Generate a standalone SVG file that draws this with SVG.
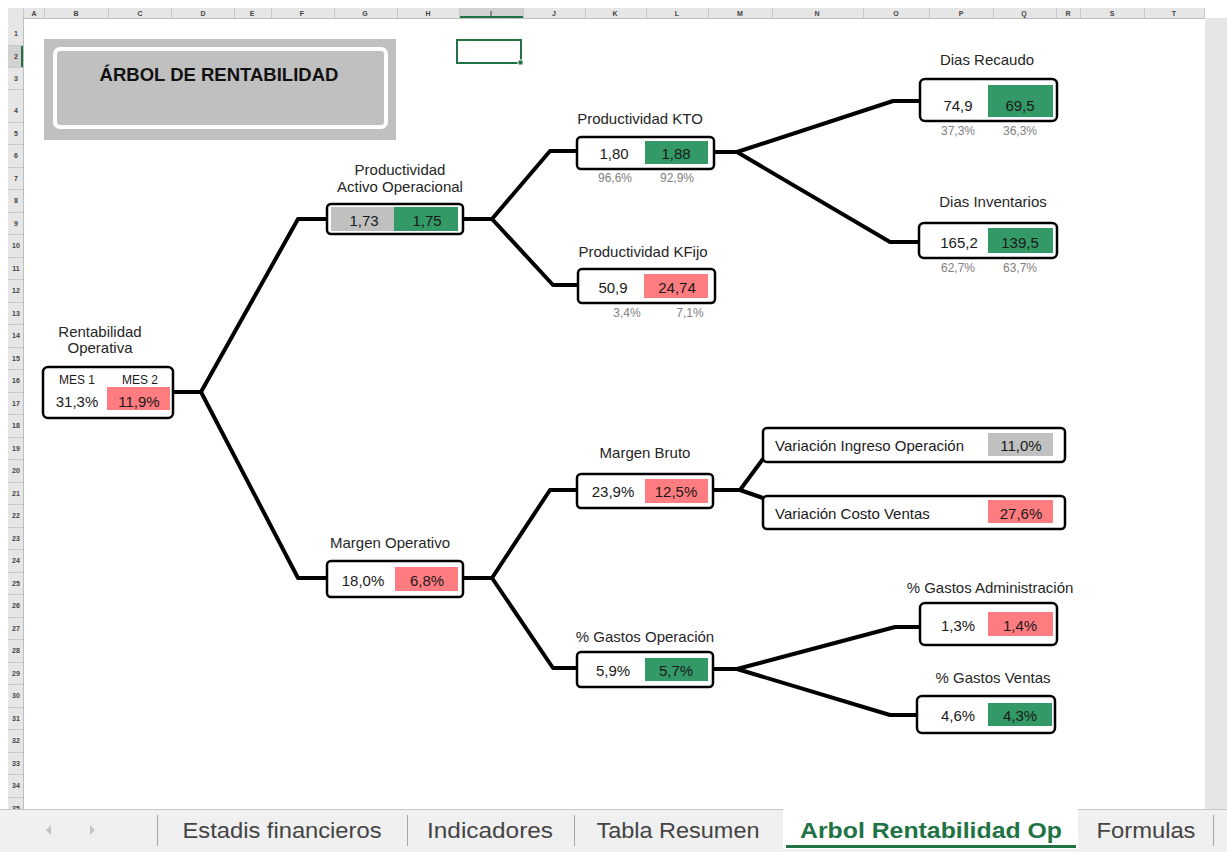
<svg xmlns="http://www.w3.org/2000/svg" width="1227" height="852" viewBox="0 0 1227 852">
<style>
.hl{font-family:'Liberation Sans',Arial,sans-serif;font-size:7px;font-weight:bold;fill:#444;text-anchor:middle}
.sep{stroke:#c8c8c8;stroke-width:1}
.box{fill:#fff;stroke:#000;stroke-width:2.5}
.lbl{font-family:'Liberation Sans',Arial,sans-serif;font-size:15px;fill:#262626;text-anchor:middle}
.val{font-family:'Liberation Sans',Arial,sans-serif;font-size:15px;fill:#1a1a1a;text-anchor:middle}
.mes{font-family:'Liberation Sans',Arial,sans-serif;font-size:12px;fill:#1a1a1a;text-anchor:middle}
.pct{font-family:'Liberation Sans',Arial,sans-serif;font-size:12px;fill:#808080;text-anchor:middle}
.red{fill:#ff7c80}
.grn{fill:#339966}
.gry{fill:#c0c0c0}
.con{fill:none;stroke:#000;stroke-width:4;stroke-linejoin:round}
.tab{font-family:'Liberation Sans',Arial,sans-serif;font-size:22px;fill:#444;text-anchor:middle}
.tsep{stroke:#a6a6a6;stroke-width:1}
</style>
<rect width="1227" height="852" fill="#fff"/>
<g id="sheet-frame">
  <rect x="8" y="8" width="1197" height="10" fill="#e6e6e6"/>
  <rect x="459" y="8" width="64" height="10" fill="#d2d2d2"/>
  <line x1="459" y1="17" x2="523" y2="17" stroke="#217346" stroke-width="2"/>
  <line x1="8" y1="18.5" x2="1205" y2="18.5" stroke="#bdbdbd"/>
  <g class="sep">
    <line x1="23.5" y1="8" x2="23.5" y2="18"/><line x1="44.5" y1="8" x2="44.5" y2="18"/><line x1="108.5" y1="8" x2="108.5" y2="18"/><line x1="171.5" y1="8" x2="171.5" y2="18"/><line x1="234.5" y1="8" x2="234.5" y2="18"/><line x1="271.5" y1="8" x2="271.5" y2="18"/><line x1="334.5" y1="8" x2="334.5" y2="18"/><line x1="397.5" y1="8" x2="397.5" y2="18"/><line x1="459.5" y1="8" x2="459.5" y2="18"/><line x1="523.5" y1="8" x2="523.5" y2="18"/><line x1="585.5" y1="8" x2="585.5" y2="18"/><line x1="646.5" y1="8" x2="646.5" y2="18"/><line x1="708.5" y1="8" x2="708.5" y2="18"/><line x1="772.5" y1="8" x2="772.5" y2="18"/><line x1="863.5" y1="8" x2="863.5" y2="18"/><line x1="929.5" y1="8" x2="929.5" y2="18"/><line x1="993.5" y1="8" x2="993.5" y2="18"/><line x1="1056.5" y1="8" x2="1056.5" y2="18"/><line x1="1080.5" y1="8" x2="1080.5" y2="18"/><line x1="1144.5" y1="8" x2="1144.5" y2="18"/><line x1="1204.5" y1="8" x2="1204.5" y2="18"/>
  </g>
  <g class="hl">
    <text x="34" y="16">A</text><text x="76" y="16">B</text><text x="140" y="16">C</text><text x="203" y="16">D</text><text x="252" y="16">E</text><text x="302" y="16">F</text><text x="365" y="16">G</text><text x="428" y="16">H</text><text x="491" y="16">I</text><text x="554" y="16">J</text><text x="615" y="16">K</text><text x="677" y="16">L</text><text x="740" y="16">M</text><text x="817" y="16">N</text><text x="896" y="16">O</text><text x="961" y="16">P</text><text x="1024" y="16">Q</text><text x="1068" y="16">R</text><text x="1112" y="16">S</text><text x="1174" y="16">T</text>
  </g>
  <rect x="8" y="18" width="15" height="791" fill="#e6e6e6"/>
  <rect x="8" y="45" width="15" height="22" fill="#d2d2d2"/>
  <line x1="22" y1="45" x2="22" y2="67" stroke="#217346" stroke-width="2"/>
  <line x1="23.5" y1="18" x2="23.5" y2="809" stroke="#bdbdbd"/>
  <g class="sep">
    <line x1="8" y1="45.5" x2="23" y2="45.5"/><line x1="8" y1="67.5" x2="23" y2="67.5"/><line x1="8" y1="89.5" x2="23" y2="89.5"/><line x1="8" y1="122.5" x2="23" y2="122.5"/><line x1="8" y1="144.5" x2="23" y2="144.5"/><line x1="8" y1="167.5" x2="23" y2="167.5"/><line x1="8" y1="189.5" x2="23" y2="189.5"/><line x1="8" y1="212.5" x2="23" y2="212.5"/><line x1="8" y1="234.5" x2="23" y2="234.5"/><line x1="8" y1="257.5" x2="23" y2="257.5"/><line x1="8" y1="279.5" x2="23" y2="279.5"/><line x1="8" y1="302.5" x2="23" y2="302.5"/><line x1="8" y1="324.5" x2="23" y2="324.5"/><line x1="8" y1="347.5" x2="23" y2="347.5"/><line x1="8" y1="369.5" x2="23" y2="369.5"/><line x1="8" y1="392.5" x2="23" y2="392.5"/><line x1="8" y1="414.5" x2="23" y2="414.5"/><line x1="8" y1="437.5" x2="23" y2="437.5"/><line x1="8" y1="459.5" x2="23" y2="459.5"/><line x1="8" y1="482.5" x2="23" y2="482.5"/><line x1="8" y1="504.5" x2="23" y2="504.5"/><line x1="8" y1="527.5" x2="23" y2="527.5"/><line x1="8" y1="549.5" x2="23" y2="549.5"/><line x1="8" y1="572.5" x2="23" y2="572.5"/><line x1="8" y1="594.5" x2="23" y2="594.5"/><line x1="8" y1="617.5" x2="23" y2="617.5"/><line x1="8" y1="639.5" x2="23" y2="639.5"/><line x1="8" y1="662.5" x2="23" y2="662.5"/><line x1="8" y1="684.5" x2="23" y2="684.5"/><line x1="8" y1="707.5" x2="23" y2="707.5"/><line x1="8" y1="729.5" x2="23" y2="729.5"/><line x1="8" y1="752.5" x2="23" y2="752.5"/><line x1="8" y1="774.5" x2="23" y2="774.5"/><line x1="8" y1="797.5" x2="23" y2="797.5"/>
  </g>
  <g class="hl">
    <text x="16" y="36">1</text><text x="16" y="59">2</text><text x="16" y="81">3</text><text x="16" y="113">4</text><text x="16" y="136">5</text><text x="16" y="158">6</text><text x="16" y="181">7</text><text x="16" y="203">8</text><text x="16" y="226">9</text><text x="16" y="248">10</text><text x="16" y="271">11</text><text x="16" y="293">12</text><text x="16" y="316">13</text><text x="16" y="338">14</text><text x="16" y="361">15</text><text x="16" y="383">16</text><text x="16" y="406">17</text><text x="16" y="428">18</text><text x="16" y="451">19</text><text x="16" y="473">20</text><text x="16" y="496">21</text><text x="16" y="518">22</text><text x="16" y="541">23</text><text x="16" y="563">24</text><text x="16" y="586">25</text><text x="16" y="608">26</text><text x="16" y="631">27</text><text x="16" y="653">28</text><text x="16" y="676">29</text><text x="16" y="698">30</text><text x="16" y="721">31</text><text x="16" y="743">32</text><text x="16" y="766">33</text><text x="16" y="788">34</text><text x="16" y="811">35</text>
  </g>
  <rect x="1205" y="18" width="22" height="792" fill="#e6e6e6"/>
</g>
<g id="tabbar">
  <rect x="0" y="809" width="1227" height="43" fill="#f0f0f0"/>
  <line x1="0" y1="809.5" x2="1227" y2="809.5" stroke="#c6c6c6"/>
  <rect x="783" y="809" width="295" height="40" fill="#fff"/>
  <line x1="786" y1="846.5" x2="1076" y2="846.5" stroke="#217346" stroke-width="3"/>
  <polygon points="51,825 46,830 51,835" fill="#c4c4c4"/>
  <polygon points="90,825 95,830 90,835" fill="#c4c4c4"/>
  <g class="tsep">
    <line x1="157.5" y1="815" x2="157.5" y2="846"/><line x1="407.5" y1="815" x2="407.5" y2="846"/><line x1="574.5" y1="815" x2="574.5" y2="846"/><line x1="1213.5" y1="815" x2="1213.5" y2="846"/>
  </g>
  <text class="tab" x="282" y="838" textLength="199" lengthAdjust="spacingAndGlyphs">Estadis financieros</text>
  <text class="tab" x="490" y="838" textLength="126" lengthAdjust="spacingAndGlyphs">Indicadores</text>
  <text class="tab" x="678" y="838" textLength="163" lengthAdjust="spacingAndGlyphs">Tabla Resumen</text>
  <text class="tab" x="931" y="838" textLength="262" lengthAdjust="spacingAndGlyphs" style="fill:#217346;font-weight:bold">Arbol Rentabilidad Op</text>
  <text class="tab" x="1146" y="838" textLength="99" lengthAdjust="spacingAndGlyphs">Formulas</text>
</g>
<g id="title">
  <rect x="44" y="39" width="352" height="101" fill="#c0c0c0"/>
  <rect x="55" y="49" width="331" height="78" rx="5" fill="#c0c0c0" stroke="#fff" stroke-width="4"/>
  <text x="219" y="81" font-family="'Liberation Sans',Arial,sans-serif" font-size="18.5" font-weight="bold" fill="#111" text-anchor="middle">ÁRBOL DE RENTABILIDAD</text>
</g>
<g id="selected-cell">
  <rect x="457" y="40" width="64" height="23" fill="none" stroke="#217346" stroke-width="2"/>
  <rect x="518" y="60" width="5" height="5" fill="#217346" stroke="#fff" stroke-width="1"/>
</g>
<g id="connectors" class="con">
  <path d="M173,392 H201 L298,219 H327"/>
  <path d="M201,392 L298,578 H327"/>
  <path d="M463,219 H492 L550,151 H577"/>
  <path d="M492,219 L553,285 H578"/>
  <path d="M714,152 H737 L893,101 H920"/>
  <path d="M737,152 L890,242 H919"/>
  <path d="M463,578 H492 L550,490 H577"/>
  <path d="M492,578 L553,668 H577"/>
  <path d="M713,490 H740 L763,459"/>
  <path d="M740,490 L763,498"/>
  <path d="M713,669 H737 L895,627 H920"/>
  <path d="M737,669 L890,715 H917"/>
</g>
<g id="node-rentabilidad-operativa">
  <text class="lbl" x="100" y="337">Rentabilidad</text>
  <text class="lbl" x="100" y="353">Operativa</text>
  <rect class="box" x="43" y="367" width="130" height="51" rx="5"/>
  <rect class="red" x="107" y="387" width="63" height="23"/>
  <text class="mes" x="77" y="384">MES 1</text>
  <text class="mes" x="140" y="384">MES 2</text>
  <text class="val" x="77" y="407">31,3%</text>
  <text class="val" x="139" y="407">11,9%</text>
</g>
<g id="node-productividad-activo">
  <text class="lbl" x="400" y="175">Productividad</text>
  <text class="lbl" x="400" y="192">Activo Operacional</text>
  <rect class="box" x="327" y="204" width="136" height="30" rx="4"/>
  <rect class="gry" x="331" y="207" width="63" height="24"/>
  <rect class="grn" x="394" y="207" width="64" height="24"/>
  <text class="val" x="364" y="226">1,73</text>
  <text class="val" x="427" y="226">1,75</text>
</g>
<g id="node-productividad-kto">
  <text class="lbl" x="640" y="124">Productividad KTO</text>
  <rect class="box" x="577" y="137" width="137" height="32" rx="4"/>
  <rect class="grn" x="645" y="141" width="63" height="23"/>
  <text class="val" x="614" y="159">1,80</text>
  <text class="val" x="676" y="159">1,88</text>
  <text class="pct" x="615" y="182">96,6%</text>
  <text class="pct" x="677" y="182">92,9%</text>
</g>
<g id="node-productividad-kfijo">
  <text class="lbl" x="643" y="257">Productividad KFijo</text>
  <rect class="box" x="578" y="269" width="137" height="34" rx="4"/>
  <rect class="red" x="644" y="274" width="64" height="24"/>
  <text class="val" x="613" y="293">50,9</text>
  <text class="val" x="677" y="293">24,74</text>
  <text class="pct" x="627" y="317">3,4%</text>
  <text class="pct" x="690" y="317">7,1%</text>
</g>
<g id="node-dias-recaudo">
  <text class="lbl" x="987" y="65">Dias Recaudo</text>
  <rect class="box" x="920" y="79" width="137" height="42" rx="5"/>
  <rect class="grn" x="988" y="85" width="65" height="32"/>
  <text class="val" x="958" y="111">74,9</text>
  <text class="val" x="1020" y="111">69,5</text>
  <text class="pct" x="958" y="135">37,3%</text>
  <text class="pct" x="1020" y="135">36,3%</text>
</g>
<g id="node-dias-inventarios">
  <text class="lbl" x="993" y="207">Dias Inventarios</text>
  <rect class="box" x="919" y="223" width="138" height="35" rx="5"/>
  <rect class="grn" x="988" y="228" width="65" height="25"/>
  <text class="val" x="959" y="248">165,2</text>
  <text class="val" x="1020" y="248">139,5</text>
  <text class="pct" x="958" y="272">62,7%</text>
  <text class="pct" x="1020" y="272">63,7%</text>
</g>
<g id="node-margen-operativo">
  <text class="lbl" x="390" y="548">Margen Operativo</text>
  <rect class="box" x="327" y="561" width="136" height="36" rx="4"/>
  <rect class="red" x="395" y="567" width="63" height="24"/>
  <text class="val" x="363" y="586">18,0%</text>
  <text class="val" x="427" y="586">6,8%</text>
</g>
<g id="node-margen-bruto">
  <text class="lbl" x="645" y="458">Margen Bruto</text>
  <rect class="box" x="577" y="474" width="136" height="34" rx="4"/>
  <rect class="red" x="645" y="479" width="63" height="24"/>
  <text class="val" x="613" y="497">23,9%</text>
  <text class="val" x="676" y="497">12,5%</text>
</g>
<g id="node-variacion-ingreso">
  <rect class="box" x="763" y="428" width="302" height="34" rx="4"/>
  <rect class="gry" x="988" y="433" width="65" height="23"/>
  <text class="val" x="775" y="451" style="text-anchor:start">Variación Ingreso Operación</text>
  <text class="val" x="1021" y="451">11,0%</text>
</g>
<g id="node-variacion-costo">
  <rect class="box" x="763" y="496" width="302" height="33" rx="4"/>
  <rect class="red" x="988" y="500" width="65" height="23"/>
  <text class="val" x="775" y="519" style="text-anchor:start">Variación Costo Ventas</text>
  <text class="val" x="1021" y="519">27,6%</text>
</g>
<g id="node-gastos-operacion">
  <text class="lbl" x="645" y="642">% Gastos Operación</text>
  <rect class="box" x="577" y="652" width="136" height="35" rx="4"/>
  <rect class="grn" x="645" y="658" width="63" height="23"/>
  <text class="val" x="613" y="676">5,9%</text>
  <text class="val" x="676" y="676">5,7%</text>
</g>
<g id="node-gastos-administracion">
  <text class="lbl" x="990" y="593">% Gastos Administración</text>
  <rect class="box" x="920" y="603" width="137" height="42" rx="5"/>
  <rect class="red" x="988" y="612" width="65" height="24"/>
  <text class="val" x="958" y="631">1,3%</text>
  <text class="val" x="1020" y="631">1,4%</text>
</g>
<g id="node-gastos-ventas">
  <text class="lbl" x="993" y="683">% Gastos Ventas</text>
  <rect class="box" x="917" y="696" width="138" height="37" rx="5"/>
  <rect class="grn" x="988" y="703" width="64" height="23"/>
  <text class="val" x="958" y="721">4,6%</text>
  <text class="val" x="1020" y="721">4,3%</text>
</g>
</svg>
